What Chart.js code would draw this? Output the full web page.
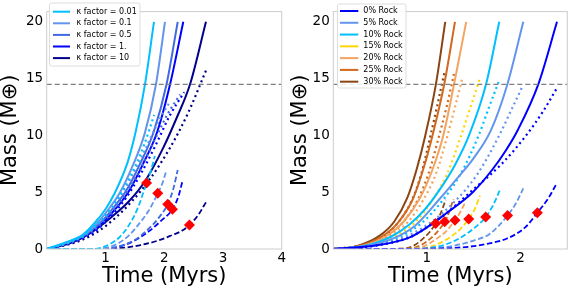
<!DOCTYPE html>
<html>
<head>
<meta charset="utf-8">
<script src="https://cdn.jsdelivr.net/npm/chart.js@4.4.1/dist/chart.umd.min.js"></script>
<style>
  html, body { margin: 0; padding: 0; background: #fff; }
  #wrap { position: relative; width: 581px; height: 291px; }
  canvas { position: absolute; top: 0; }
</style>
</head>
<body>
<div id="wrap">
  <canvas id="left" width="290" height="291" style="left:0"></canvas>
  <canvas id="right" width="291" height="291" style="left:290px"></canvas>
</div>
<script>
// ---- data: [time (Myrs), mass (M_earth)] ----
const yTicks = [0, 5, 10, 15, 20];
const leftXTicks = [1, 2, 3, 4];
const rightXTicks = [1, 2];
const refMass = 14.5;

// left panel: opacity factor
const kappaLabels = ["κ factor = 0.01", "κ factor = 0.1", "κ factor = 0.5", "κ factor = 1.", "κ factor = 10"];
const kappaColors = ["#00bfff", "#6495ed", "#4169e1", "#0000ff", "#00008b"];
const kappaSolid = [
  [[0,0],[0.33,0.6],[0.6,1.2],[0.8,2.2],[1.0,3.5],[1.15,4.84],[1.378,7.65],[1.52,10.46],[1.673,14.5],[1.826,20]],
  [[0,0],[0.36,0.6],[0.65,1.3],[0.88,2.4],[1.08,3.7],[1.25,5.0],[1.47,7.4],[1.67,10.2],[1.86,14.5],[2.013,20]],
  [[0,0],[0.38,0.6],[0.7,1.4],[0.95,2.5],[1.16,3.8],[1.35,5.1],[1.58,7.4],[1.82,10.3],[2.04,14.5],[2.23,20]],
  [[0,0],[0.4,0.6],[0.73,1.4],[0.99,2.5],[1.2,3.7],[1.4,5.1],[1.64,7.5],[1.88,10.3],[2.10,14.5],[2.325,20]],
  [[0,0],[0.45,0.6],[0.8,1.6],[1.1,2.8],[1.4,4.2],[1.69,6.1],[1.985,8.92],[2.2,11.4],[2.44,14.5],[2.711,20]]
];
const kappaDotted = [
  [[0,0],[0.36,0.55],[0.66,1.3],[0.92,2.5],[1.13,3.8],[1.32,5.4],[1.5,7.2],[1.66,9.2],[1.83,11.8]],
  [[0,0],[0.4,0.6],[0.72,1.5],[0.98,2.8],[1.22,4.4],[1.45,6.4],[1.68,8.8],[1.9,11.2],[2.1,13.0]],
  [[0,0],[0.42,0.6],[0.76,1.5],[1.04,2.8],[1.3,4.5],[1.55,6.6],[1.8,9.2],[2.05,11.8],[2.27,13.6]],
  [[0,0],[0.44,0.6],[0.8,1.5],[1.08,2.8],[1.35,4.5],[1.6,6.6],[1.86,9.2],[2.1,11.8],[2.34,13.8]],
  [[0,0],[0.5,0.6],[0.86,1.5],[1.16,2.7],[1.45,4.2],[1.75,6.1],[2.1,8.92],[2.4,11.9],[2.71,15.7]]
];
const kappaDashed = [
  [[0,0],[0.8,0],[0.95,0.15],[1.1,0.5],[1.25,1.1],[1.4,2.1],[1.55,3.6],[1.7,5.82],[1.78,7.0],[1.84,8.2]],
  [[0,0],[0.85,0],[1.0,0.1],[1.2,0.45],[1.4,1.2],[1.6,2.4],[1.75,3.5],[1.89,4.9],[1.97,5.8],[2.04,6.95]],
  [[0,0],[0.9,0],[1.1,0.1],[1.3,0.35],[1.5,0.8],[1.7,1.6],[1.9,2.7],[2.06,3.94],[2.15,5.2],[2.23,6.95]],
  [[0,0],[0.95,0],[1.15,0.1],[1.35,0.4],[1.55,0.9],[1.75,1.6],[1.95,2.5],[2.14,3.49],[2.24,4.6],[2.315,6.05]],
  [[0,0],[1.0,0],[1.3,0.1],[1.6,0.35],[1.9,0.75],[2.1,1.15],[2.3,1.6],[2.43,2.11],[2.58,3.0],[2.72,4.19]]
];
const kappaMarks = [[1.70,5.82],[1.89,4.9],[2.06,3.94],[2.14,3.49],[2.43,2.11]];

// right panel: rock fraction
const rockLabels = ["0% Rock", "5% Rock", "10% Rock", "15% Rock", "20% Rock", "25% Rock", "30% Rock"];
const rockColors = ["#0000ff", "#6495ed", "#00bfff", "#ffd700", "#f4a460", "#d2691e", "#8b4513"];
const rockSolid = [
  [[0,0],[0.45,0.3],[0.81,1.0],[1.0,1.9],[1.2,3.1],[1.49,5.0],[1.7,7.0],[1.845,8.7],[1.97,10.46],[2.19,14.5],[2.39,20]],
  [[0,0],[0.38,0.3],[0.66,1.0],[0.88,2.1],[1.135,4.4],[1.3,6.0],[1.5,8.0],[1.685,10.46],[1.86,14.5],[2.03,20]],
  [[0,0],[0.35,0.3],[0.62,1.1],[0.82,2.2],[0.98,3.5],[1.135,5.2],[1.3,7.4],[1.45,10],[1.632,14.5],[1.773,20]],
  [],
  [[0,0],[0.3,0.25],[0.56,1.1],[0.75,2.4],[0.92,4.4],[1.06,7.0],[1.175,10],[1.29,14.5],[1.42,20]],
  [[0,0],[0.27,0.25],[0.52,1.1],[0.69,2.3],[0.85,4.4],[0.96,7.0],[1.06,10],[1.185,14.5],[1.30,20]],
  [[0,0],[0.25,0.25],[0.5,1.2],[0.65,2.4],[0.79,4.5],[0.89,7.0],[0.983,10],[1.096,14.5],[1.196,20]]
];
const rockDotted = [
  [[0,0],[0.45,0.3],[0.81,1.0],[1.0,1.9],[1.2,3.1],[1.49,5.2],[1.8,7.5],[2.06,10],[2.24,12.1],[2.39,14.18]],
  [[0,0],[0.43,0.3],[0.78,1.1],[1.05,2.4],[1.3,4.2],[1.54,6.6],[1.773,10],[1.9,12.2],[2.02,14.3]],
  [[0,0],[0.4,0.3],[0.72,1.1],[0.96,2.4],[1.16,4.2],[1.36,6.6],[1.553,10],[1.66,12.4],[1.766,14.7]],
  [[0,0],[0.36,0.3],[0.66,1.1],[0.88,2.4],[1.06,4.3],[1.22,6.7],[1.366,10],[1.47,12.6],[1.567,15.05]],
  [[0,0],[0.32,0.3],[0.6,1.1],[0.8,2.4],[0.96,4.3],[1.1,6.7],[1.22,10],[1.3,12.5],[1.38,15.1]],
  [[0,0],[0.3,0.3],[0.57,1.1],[0.75,2.4],[0.9,4.3],[1.02,6.7],[1.125,9.8],[1.21,12.5],[1.29,15.44]],
  [[0,0],[0.28,0.3],[0.53,1.1],[0.7,2.4],[0.84,4.3],[0.94,6.6],[1.025,9.5],[1.11,12.6],[1.19,15.67]]
];
const rockDashed = [
  [[0,0],[1.0,0.02],[1.3,0.1],[1.5,0.25],[1.7,0.55],[1.85,0.9],[2.05,1.9],[2.18,3.2],[2.3,4.5],[2.39,5.82]],
  [[0,0],[0.95,0.02],[1.15,0.12],[1.35,0.4],[1.52,0.8],[1.667,1.3],[1.862,2.95],[1.95,4.0],[2.03,5.34]],
  [[0,0],[0.9,0.02],[1.05,0.12],[1.2,0.4],[1.35,0.95],[1.5,1.8],[1.628,2.81],[1.71,3.9],[1.78,5.2]],
  [[0,0],[0.85,0.02],[1.0,0.12],[1.12,0.45],[1.24,1.0],[1.35,1.7],[1.447,2.64],[1.51,3.5],[1.567,4.7]],
  [[0,0],[0.8,0.02],[0.92,0.1],[1.02,0.45],[1.12,1.0],[1.21,1.6],[1.30,2.53],[1.36,3.3],[1.41,4.13]],
  [[0,0],[0.75,0.02],[0.86,0.1],[0.95,0.4],[1.05,1.0],[1.12,1.6],[1.19,2.39],[1.24,3.3],[1.284,4.41]],
  [[0,0],[0.7,0.02],[0.8,0.1],[0.88,0.4],[0.97,1.0],[1.03,1.5],[1.093,2.25],[1.15,3.2],[1.2,4.33]]
];
const rockMarks = [[1.093,2.25],[1.19,2.39],[1.30,2.53],[1.447,2.64],[1.628,2.81],[1.862,2.95],[2.18,3.2]];

// ---- helpers ----
const FONT = "'DejaVu Sans', sans-serif";
const toXY = (pts) => pts.map(p => ({ x: p[0], y: p[1] }));

function curve(pts, color, dash, width) {
  return {
    data: toXY(pts),
    showLine: true,
    borderColor: color,
    backgroundColor: color,
    borderWidth: width,
    borderDash: dash,
    pointRadius: 0,
    pointHoverRadius: 0,
    cubicInterpolationMode: "monotone",
    fill: false,
    order: 2
  };
}

function buildSets(colors, solid, dotted, dashed, marks, xMax) {
  const sets = [];
  colors.forEach((c, i) => {
    if (solid[i].length) sets.push(curve(solid[i], c, [], 2));
    sets.push(curve(dotted[i], c, [2, 3.3], 2.2));
    sets.push(curve(dashed[i], c, [5.5, 2.6], 1.8));
  });
  sets.push(Object.assign(curve([[0, refMass], [xMax, refMass]], "#808080", [5, 3], 1.3), { order: 1 }));
  sets.push({
    data: toXY(marks),
    showLine: false,
    pointStyle: "rectRot",
    pointRadius: 5.5,
    pointBackgroundColor: "#ff0000",
    pointBorderColor: "#ff0000",
    pointBorderWidth: 0,
    order: 0
  });
  return sets;
}

// frame + legend drawn inside the plot
const framePlugin = {
  id: "frame",
  afterDatasetsDraw(chart, args, opts) {
    const { ctx, chartArea: a } = chart;
    ctx.save();
    ctx.strokeStyle = "#cccccc";
    ctx.lineWidth = 1;
    ctx.strokeRect(a.left, a.top, a.right - a.left, a.bottom - a.top);
    // legend
    const L = opts.legend;
    ctx.fillStyle = "rgba(255,255,255,0.85)";
    ctx.strokeStyle = "#dddddd";
    ctx.beginPath();
    ctx.roundRect(L.x, L.y, L.w, L.h, 2);
    ctx.fill();
    ctx.stroke();
    ctx.font = "8px " + FONT;
    ctx.textBaseline = "middle";
    L.labels.forEach((lab, i) => {
      const y = L.y + L.first + i * L.row;
      ctx.strokeStyle = L.colors[i];
      ctx.lineWidth = 2;
      ctx.beginPath();
      ctx.moveTo(L.x0, y);
      ctx.lineTo(L.x1, y);
      ctx.stroke();
      ctx.fillStyle = "#000";
      ctx.fillText(lab, L.tx, y);
    });
    ctx.restore();
  }
};

function makePanel(id, sets, xMax, xTicks, yWidth, padRight, legend) {
  return new Chart(document.getElementById(id), {
    type: "scatter",
    data: { datasets: sets },
    plugins: [framePlugin],
    options: {
      responsive: false,
      animation: false,
      devicePixelRatio: 1,
      layout: { padding: { top: 1, right: padRight, left: 0, bottom: 0 } },
      plugins: {
        legend: { display: false },
        tooltip: { enabled: false },
        frame: { legend: legend }
      },
      scales: {
        x: {
          type: "linear",
          min: 0,
          max: xMax,
          grid: { display: false, drawTicks: false },
          border: { display: false },
          afterBuildTicks: (s) => { s.ticks = xTicks.map(v => ({ value: v })); },
          afterFit: (s) => { s.height = 42; },
          ticks: { color: "#000", padding: 1, font: { family: FONT, size: 13.5 } },
          title: {
            display: true,
            text: "Time (Myrs)",
            color: "#000",
            padding: { top: 2, bottom: 2 },
            font: { family: FONT, size: 21 }
          }
        },
        y: {
          type: "linear",
          min: 0,
          max: 20.9,
          grid: { display: false, drawTicks: false },
          border: { display: false },
          afterBuildTicks: (s) => { s.ticks = yTicks.map(v => ({ value: v })); },
          afterFit: (s) => { s.width = yWidth; },
          ticks: { color: "#000", padding: 3.5, font: { family: FONT, size: 13.5 } },
          title: {
            display: true,
            text: "Mass (M⊕)",
            color: "#000",
            padding: 0,
            font: { family: FONT, size: 21, lineHeight: 1.05 }
          }
        }
      }
    }
  });
}

makePanel("left",
  buildSets(kappaColors, kappaSolid, kappaDotted, kappaDashed, kappaMarks, 4),
  4, leftXTicks, 46.7, 8.3,
  { x: 49.5, y: 3, w: 90.5, h: 63, first: 8.7, row: 11.6, x0: 53, x1: 70, tx: 76.5,
    labels: kappaLabels, colors: kappaColors });

makePanel("right",
  buildSets(rockColors, rockSolid, rockDotted, rockDashed, rockMarks, 2.5),
  2.5, rightXTicks, 43.3, 13.7,
  { x: 47.5, y: 4, w: 68.5, h: 84, first: 7, row: 11.78, x0: 50, x1: 68.3, tx: 73.3,
    labels: rockLabels, colors: rockColors });
</script>
</body>
</html>
